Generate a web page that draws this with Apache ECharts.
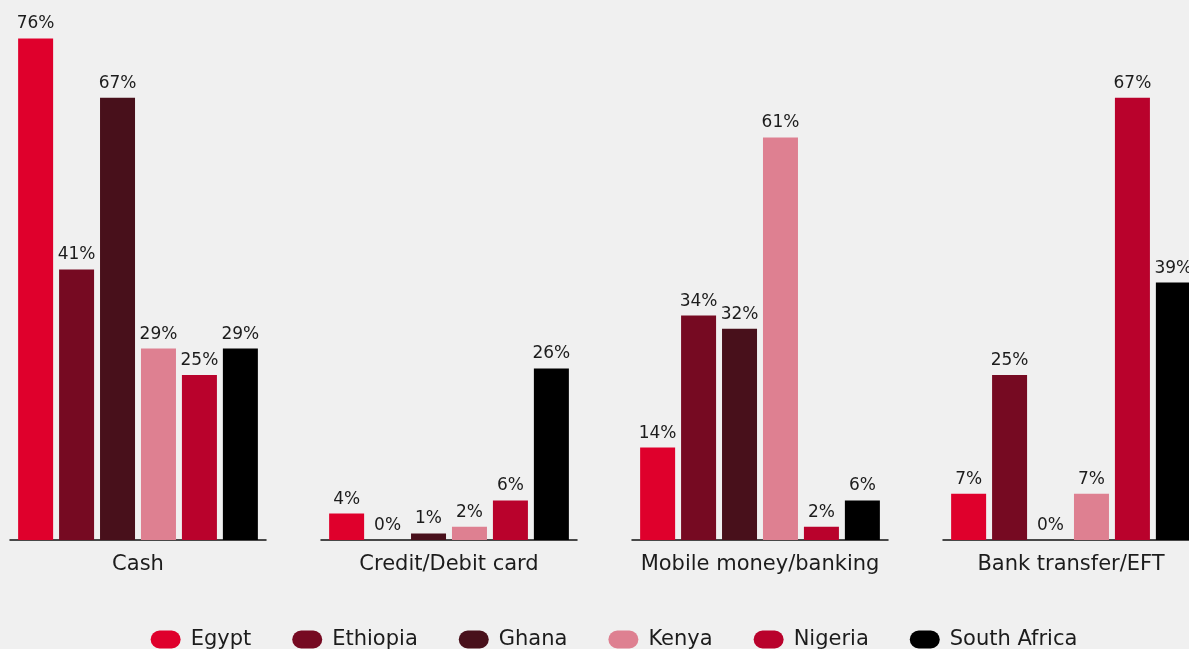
<!DOCTYPE html>
<html>
<head>
<meta charset="utf-8">
<script src="https://cdn.jsdelivr.net/npm/echarts@6/dist/echarts.min.js"></script>
<style>
  html, body { margin: 0; padding: 0; background: #f0f0f0; overflow: hidden; }
  #chart { width: 1228px; height: 649px; }
</style>
</head>
<body>
<div id="chart"></div>
<script>
// Payment methods used, share of respondents per country (%)
const categories = ['Cash', 'Credit/Debit card', 'Mobile money/banking', 'Bank transfer/EFT'];
const countries = ['Egypt', 'Ethiopia', 'Ghana', 'Kenya', 'Nigeria', 'South Africa'];
const egypt = [76, 4, 14, 7];
const ethiopia = [41, 0, 34, 25];
const ghana = [67, 1, 32, 0];
const kenya = [29, 2, 61, 7];
const nigeria = [25, 6, 2, 67];
const southAfrica = [29, 26, 6, 39];

const seriesValues = [egypt, ethiopia, ghana, kenya, nigeria, southAfrica];
const colors = ['#df002c', '#760a22', '#48101b', '#de8091', '#b9022c', '#000000'];

const FONT = 'DejaVu Sans';
const TEXT = '#1c1c1c';

// one small panel per payment method, each with its own baseline
const grids = [];
const xAxes = [];
const yAxes = [];
const series = [];
categories.forEach((cat, gi) => {
  grids.push({ left: 10 + gi * 311, width: 256, top: 12, bottom: 109 });
  xAxes.push({
    type: 'category', gridIndex: gi, data: [cat],
    axisLine: { lineStyle: { color: '#111', width: 1.5 } },
    axisTick: { show: false },
    axisLabel: { color: TEXT, fontSize: 21, fontFamily: FONT, margin: 14 }
  });
  yAxes.push({ type: 'value', gridIndex: gi, min: 0, max: 80, show: false, splitLine: { show: false } });
  countries.forEach((name, si) => {
    series.push({
      name: name, type: 'bar', xAxisIndex: gi, yAxisIndex: gi,
      data: [seriesValues[si][gi]],
      barWidth: 35, barGap: '17%',
      itemStyle: { color: colors[si] },
      label: {
        show: true, position: 'top', distance: 6,
        formatter: '{c}%', color: TEXT, fontSize: 17, fontFamily: FONT
      },
      animation: false
    });
  });
});

const chart = echarts.init(document.getElementById('chart'));
chart.setOption({
  backgroundColor: '#f0f0f0',
  animation: false,
  color: colors,
  grid: grids,
  xAxis: xAxes,
  yAxis: yAxes,
  legend: {
    data: countries,
    top: 629,
    left: 'center',
    padding: 0,
    itemWidth: 30, itemHeight: 18, itemGap: 41,
    icon: 'path://M9,0 H21 A9,9 0 0 1 21,18 H9 A9,9 0 0 1 9,0 Z',
    textStyle: { color: TEXT, fontSize: 21, fontFamily: FONT, padding: [0, 0, 0, 5] }
  },
  series: series
});
</script>
</body>
</html>
